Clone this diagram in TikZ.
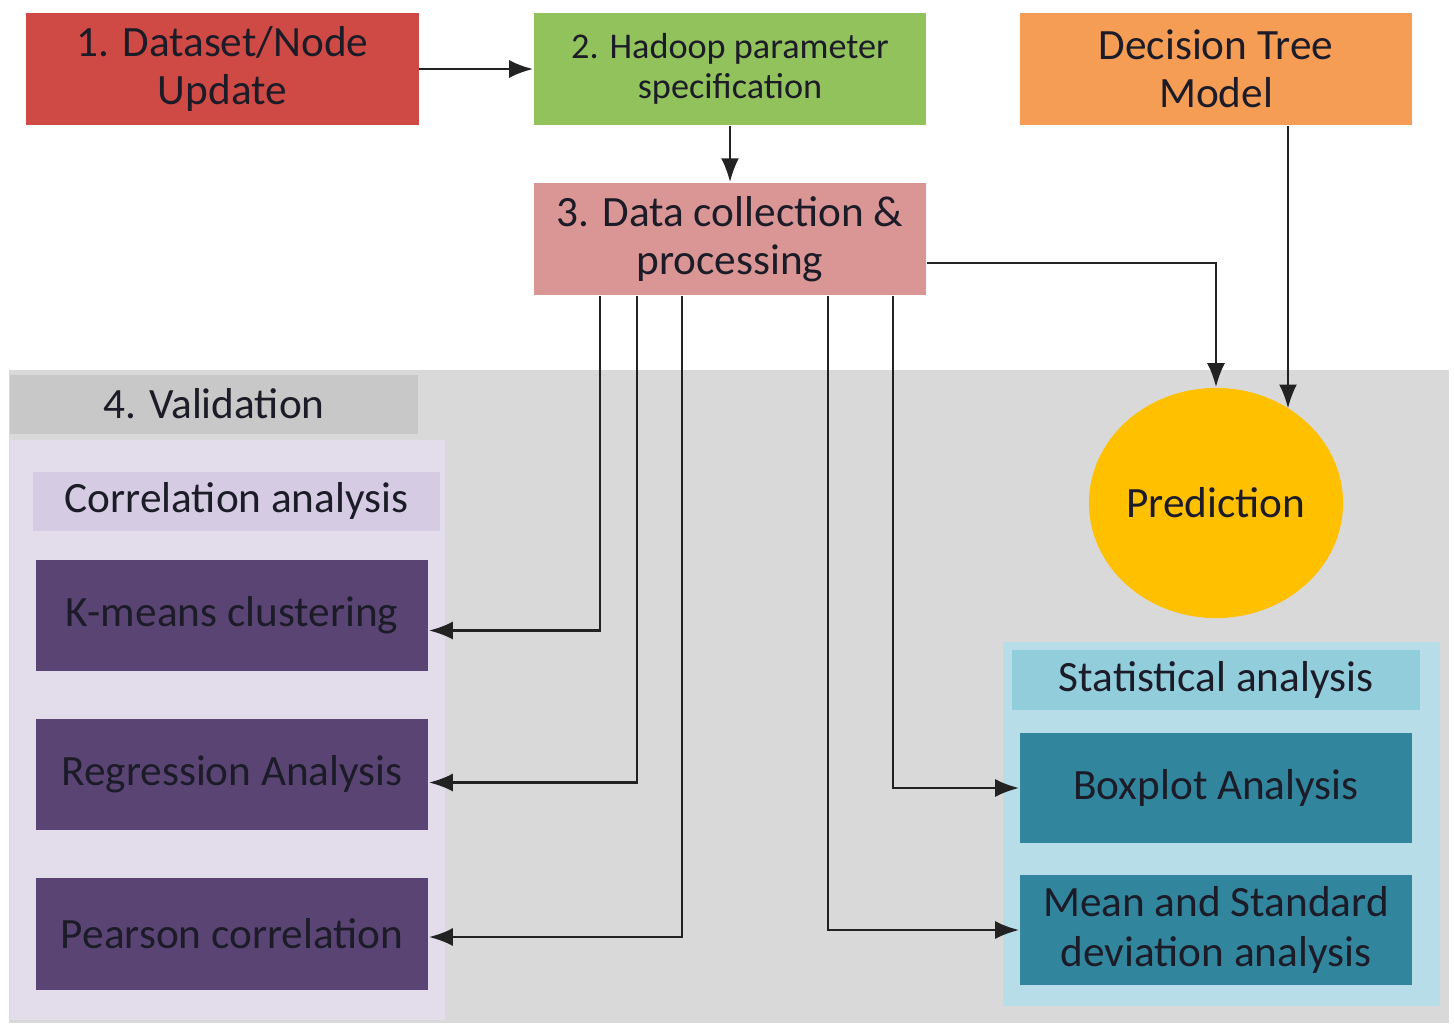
\documentclass[tikz,border=0pt]{standalone}
\usepackage{fontspec}
\setmainfont{Carlito}
\usetikzlibrary{shapes.geometric,arrows.meta,calc}
\definecolor{cRed}{HTML}{D04A45}
\definecolor{cGreen}{HTML}{92C25B}
\definecolor{cOrange}{HTML}{F59D55}
\definecolor{cPink}{HTML}{D99694}
\definecolor{cGray}{HTML}{D9D9D9}
\definecolor{cGrayHdr}{HTML}{C8C8C8}
\definecolor{cLav}{HTML}{E3DDEB}
\definecolor{cLavHdr}{HTML}{D5CBE3}
\definecolor{cPurple}{HTML}{5A4474}
\definecolor{cBlueBg}{HTML}{B7DEE8}
\definecolor{cBlueHdr}{HTML}{92CDDC}
\definecolor{cTeal}{HTML}{31859C}
\definecolor{cYellow}{HTML}{FFC000}
\definecolor{cTxt}{HTML}{1C1C28}
\definecolor{cLine}{HTML}{222222}
\tikzset{
  boxnode/.style={rectangle, inner sep=0pt, align=center, text=cTxt,
    font=\fontsize{12.3}{13.6}\selectfont},
  bigbox/.style={boxnode, minimum width=3.92cm, minimum height=1.12cm},
  hdrbox/.style={boxnode, minimum width=4.08cm, minimum height=0.59cm},
  arr/.style={draw=cLine, line width=0.8pt, -{Latex[length=2.4mm,width=1.8mm]}}
}
\begin{document}
\begin{tikzpicture}[x=0.01cm,y=-0.01cm]
\useasboundingbox (0,0) rectangle (1454,1023);
\fill[white] (0,0) rectangle (1454,1023);
% background regions
\fill[cGray] (9,370) rectangle (1449,1023);
\fill[cLav] (10,440) rectangle (445,1020);
\fill[cBlueBg] (1003,642) rectangle (1440,1006);
% top boxes
\node[bigbox, fill=cRed] (b1) at (222.5,69) {1. Dataset/Node\\Update};
\node[bigbox, fill=cGreen, font=\fontsize{10.3}{11.4}\selectfont] (b2) at (730,69) {2. Hadoop parameter\\specification};
\node[bigbox, fill=cOrange] (dt) at (1216,69) {Decision Tree\\Model};
\node[bigbox, fill=cPink, font=\fontsize{12.3}{13.8}\selectfont] (b3) at (730,239) {3. Data collection \&\\processing};
% validation
\node[hdrbox, fill=cGrayHdr] (val) at (214,404) {4. Validation};
\node[hdrbox, fill=cLavHdr, minimum width=4.07cm] (corr) at (236.5,501) {Correlation analysis};
\node[bigbox, fill=cPurple, minimum height=1.11cm] (km) at (232,615.5) {K-means clustering};
\node[bigbox, fill=cPurple, minimum height=1.11cm] (reg) at (232,774.5) {Regression Analysis};
\node[bigbox, fill=cPurple] (pear) at (232,934) {Pearson correlation};
% prediction
\node[ellipse, fill=cYellow, minimum width=2.54cm, minimum height=2.30cm, inner sep=0pt, text=cTxt,
  font=\fontsize{12.3}{13.6}\selectfont] (pred) at (1216,503) {Prediction};
% statistical
\node[hdrbox, fill=cBlueHdr, minimum height=0.60cm] (stat) at (1216,680) {Statistical analysis};
\node[bigbox, fill=cTeal, minimum height=1.10cm] (bp) at (1216,788) {Boxplot Analysis};
\node[bigbox, fill=cTeal, minimum height=1.10cm, font=\fontsize{12.3}{14.2}\selectfont] (msd) at (1216,930) {Mean and Standard\\deviation analysis};
% connectors
\coordinate (dtp) at ($(dt.south)+(72,0)$);
\coordinate (predhit) at (pred.52.8);
\draw[arr] (b1.east) -- (b2.west);
\draw[arr] (b2.south) -- (b3.north);
\draw[arr] ($(b3.east)+(0,24)$) -| (pred.north);
\draw[arr] (dtp) -- (dtp |- predhit);
\draw[arr] ($(b3.south)+(-130,0)$) |- ($(km.east)+(0,15)$);
\draw[arr] ($(b3.south)+(-93,0)$) |- ($(reg.east)+(0,8)$);
\draw[arr] ($(b3.south)+(-48,0)$) |- ($(pear.east)+(0,3)$);
\draw[arr] ($(b3.south)+(98,0)$) |- (msd.west);
\draw[arr] ($(b3.south)+(163,0)$) |- (bp.west);
\end{tikzpicture}
\end{document}
